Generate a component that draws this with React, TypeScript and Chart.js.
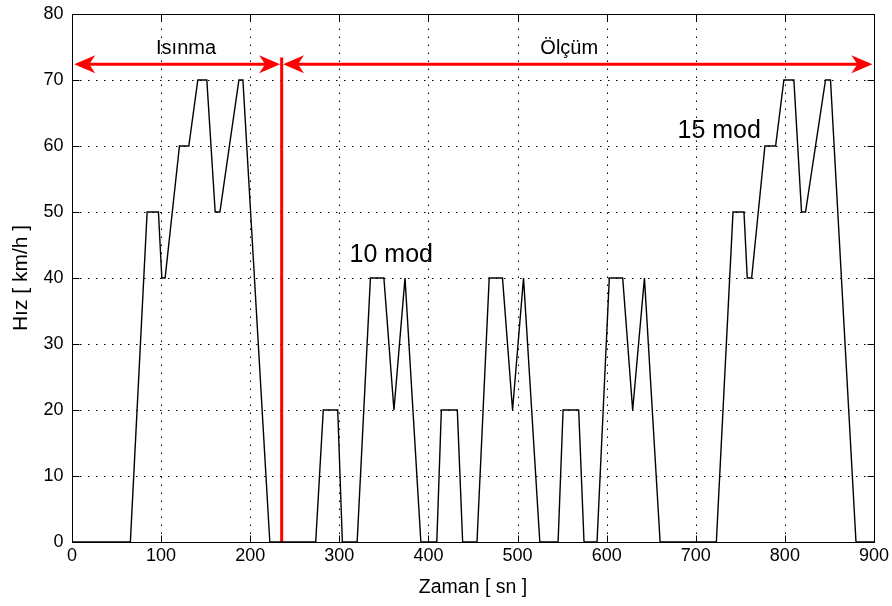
import React, { useEffect, useRef } from "react";
import { Chart, registerables } from "chart.js";

Chart.register(...registerables);

// ---- Speed profile (time in s, speed in km/h) ----
const warmupT = [0, 65.5, 84.3, 97, 100.8, 104.5, 120.6, 131.1, 141.2, 151.3, 160.7, 166, 187.3, 191.8, 222];
const warmupV = [0, 0, 50, 50, 40, 40, 60, 60, 70, 70, 50, 50, 70, 70, 0];

const cycle1T = [273.5, 282, 298.2, 303.4, 320, 334.9, 350, 361.3, 373.7, 391.5];
const cycle1V = [0, 20, 20, 0, 0, 40, 40, 20, 40, 0];

const cycle2T = [409.4, 414.5, 432.4, 438.4, 454.5, 468.2, 483.1, 494.4, 506.7, 525];
const cycle2V = [0, 20, 20, 0, 0, 40, 40, 20, 40, 0];

const cycle3T = [545.5, 551.1, 568.6, 574.6, 589.2, 603, 618, 629.2, 642.4, 660];
const cycle3V = [0, 20, 20, 0, 0, 40, 40, 20, 40, 0];

const mode15T = [723.1, 741.8, 754.1, 757.8, 762.7, 777.6, 789.6, 798.9, 810.1, 818.7, 823.2, 845.6, 851.2, 879.8, 900];
const mode15V = [0, 50, 50, 40, 40, 60, 60, 70, 70, 50, 50, 70, 70, 0, 0];

// ---- Axes ----
const xTicks = [0, 100, 200, 300, 400, 500, 600, 700, 800, 900];
const yTicks = [0, 10, 20, 30, 40, 50, 60, 70, 80];
const xTitle = "Zaman [ sn ]";
const yTitle = "Hız [ km/h ]";

// ---- Annotations (data units) ----
const splitX = 235.3;
const splitTop = 73.4;
const arrowY = 72.4;
const warmupArrow = [2.5, 233.6];
const measureArrow = [236.8, 898.2];
const phaseLabels = ["Isınma", "Ölçüm"];
const phaseLabelX = [128, 558];
const phaseLabelY = 74.7;
const modeLabels = ["10 mod", "15 mod"];
const modeLabelX = [358.3, 726.3];
const modeLabelY = [43.4, 62.3];

const FONT = "'Liberation Sans', Arial, Helvetica, sans-serif";

function toPoints(ts: number[], vs: number[]) {
  return ts.map((t, i) => ({ x: t, y: vs[i] }));
}

const speedPoints = [
  ...toPoints(warmupT, warmupV),
  ...toPoints(cycle1T, cycle1V),
  ...toPoints(cycle2T, cycle2V),
  ...toPoints(cycle3T, cycle3V),
  ...toPoints(mode15T, mode15V),
];

function drawHead(ctx: CanvasRenderingContext2D, tipX: number, y: number, dir: number) {
  const L = 21, W = 9, N = 15;
  ctx.beginPath();
  ctx.moveTo(tipX, y);
  ctx.lineTo(tipX - dir * L, y - W);
  ctx.lineTo(tipX - dir * N, y);
  ctx.lineTo(tipX - dir * L, y + W);
  ctx.closePath();
  ctx.fill();
}

const overlay = {
  id: "matlabOverlay",
  beforeDatasetsDraw(chart: any) {
    const { ctx, chartArea: a, scales } = chart;
    const x = scales.x, y = scales.y;
    ctx.save();
    ctx.strokeStyle = "#000";
    ctx.lineWidth = 1;
    ctx.setLineDash([1.5, 6.5]);
    xTicks.forEach((v) => {
      if (v <= xTicks[0] || v >= xTicks[xTicks.length - 1]) return;
      const px = Math.round(x.getPixelForValue(v)) + 0.5;
      ctx.beginPath();
      ctx.moveTo(px, a.bottom);
      ctx.lineTo(px, a.top);
      ctx.stroke();
    });
    yTicks.forEach((v) => {
      if (v <= yTicks[0] || v >= yTicks[yTicks.length - 1]) return;
      const py = Math.round(y.getPixelForValue(v)) + 0.5;
      ctx.beginPath();
      ctx.moveTo(a.left, py);
      ctx.lineTo(a.right, py);
      ctx.stroke();
    });
    ctx.restore();
  },
  afterDatasetsDraw(chart: any) {
    const { ctx, chartArea: a, scales } = chart;
    const x = scales.x, y = scales.y;
    ctx.save();
    // box
    ctx.strokeStyle = "#000";
    ctx.lineWidth = 1;
    const l = Math.round(a.left) + 0.5, r = Math.round(a.right) + 0.5;
    const t = Math.round(a.top) + 0.5, b = Math.round(a.bottom) + 0.5;
    ctx.strokeRect(l, t, r - l, b - t);
    // inward ticks
    const TL = 7;
    ctx.beginPath();
    xTicks.forEach((v) => {
      const px = Math.round(x.getPixelForValue(v)) + 0.5;
      ctx.moveTo(px, b); ctx.lineTo(px, b - TL);
      ctx.moveTo(px, t); ctx.lineTo(px, t + TL);
    });
    yTicks.forEach((v) => {
      const py = Math.round(y.getPixelForValue(v)) + 0.5;
      ctx.moveTo(l, py); ctx.lineTo(l + TL, py);
      ctx.moveTo(r, py); ctx.lineTo(r - TL, py);
    });
    ctx.stroke();

    // arrowheads
    ctx.fillStyle = "#ff0000";
    const ay = y.getPixelForValue(arrowY);
    drawHead(ctx, x.getPixelForValue(warmupArrow[0]), ay, -1);
    drawHead(ctx, x.getPixelForValue(warmupArrow[1]), ay, 1);
    drawHead(ctx, x.getPixelForValue(measureArrow[0]), ay, -1);
    drawHead(ctx, x.getPixelForValue(measureArrow[1]), ay, 1);

    // texts
    ctx.fillStyle = "#000";
    ctx.textAlign = "center";
    ctx.textBaseline = "middle";
    ctx.font = `20px ${FONT}`;
    phaseLabels.forEach((s, i) => {
      ctx.fillText(s, x.getPixelForValue(phaseLabelX[i]), y.getPixelForValue(phaseLabelY));
    });
    ctx.font = `25px ${FONT}`;
    modeLabels.forEach((s, i) => {
      ctx.fillText(s, x.getPixelForValue(modeLabelX[i]), y.getPixelForValue(modeLabelY[i]));
    });
    ctx.restore();
  },
};

export default function App() {
  const ref = useRef<HTMLCanvasElement | null>(null);
  useEffect(() => {
    if (!ref.current) return;
    const chart = new Chart(ref.current, {
      type: "line",
      data: {
        datasets: [
          {
            data: speedPoints,
            borderColor: "#000",
            borderWidth: 1.4,
            pointRadius: 0,
            tension: 0,
            fill: false,
          },
          {
            data: [{ x: splitX, y: 0 }, { x: splitX, y: splitTop }],
            borderColor: "#ff0000",
            borderWidth: 3,
            pointRadius: 0,
            fill: false,
          },
          {
            data: [{ x: warmupArrow[0] + 5, y: arrowY }, { x: warmupArrow[1] - 5, y: arrowY }],
            borderColor: "#ff0000",
            borderWidth: 3,
            pointRadius: 0,
            fill: false,
          },
          {
            data: [{ x: measureArrow[0] + 5, y: arrowY }, { x: measureArrow[1] - 5, y: arrowY }],
            borderColor: "#ff0000",
            borderWidth: 3,
            pointRadius: 0,
            fill: false,
          },
        ],
      },
      options: {
        animation: false,
        responsive: false,
        devicePixelRatio: 1,
        events: [],
        layout: { padding: { left: 0, top: 14, right: 17, bottom: 0 } },
        plugins: { legend: { display: false }, tooltip: { enabled: false } },
        scales: {
          x: {
            type: "linear",
            min: 0,
            max: 900,
            afterBuildTicks: (s: any) => {
              s.ticks = xTicks.map((v) => ({ value: v }));
            },
            afterFit: (s: any) => {
              s.height = 64;
            },
            grid: { display: false, drawTicks: false },
            border: { display: false },
            ticks: {
              color: "#000",
              font: { size: 18, family: FONT },
              padding: 3,
              maxRotation: 0,
              autoSkip: false,
            },
            title: {
              display: true,
              text: xTitle,
              color: "#000",
              font: { size: 19.5, family: FONT },
              padding: { top: 0, bottom: 7 },
            },
          },
          y: {
            type: "linear",
            min: 0,
            max: 80,
            afterBuildTicks: (s: any) => {
              s.ticks = yTicks.map((v) => ({ value: v }));
            },
            afterFit: (s: any) => {
              s.width = 72;
            },
            grid: { display: false, drawTicks: true, tickLength: 8 },
            border: { display: false },
            ticks: {
              color: "#000",
              font: { size: 18, family: FONT },
              padding: 0.5,
              autoSkip: false,
            },
            title: {
              display: true,
              text: yTitle,
              color: "#000",
              font: { size: 21, family: FONT },
              padding: { top: 9, bottom: 0 },
            },
          },
        },
      },
      plugins: [overlay],
    });
    return () => chart.destroy();
  }, []);

  return (
    <div style={{ position: "fixed", left: 0, top: 0, width: 892, height: 606, background: "#fff" }}>
      <canvas ref={ref} width={892} height={606} style={{ width: 892, height: 606, display: "block" }} />
    </div>
  );
}
